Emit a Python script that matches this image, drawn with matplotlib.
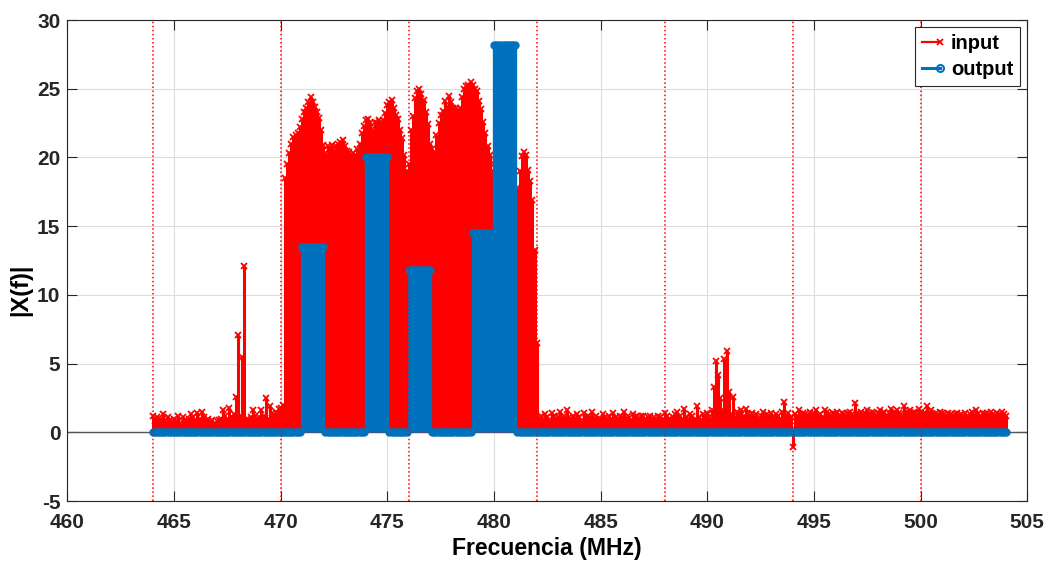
import numpy as np
import matplotlib
matplotlib.use("Agg")
import matplotlib.pyplot as plt
from matplotlib.lines import Line2D
from matplotlib.legend_handler import HandlerLine2D

plt.rcParams['font.family'] = ['Liberation Sans', 'DejaVu Sans']
plt.rcParams['font.weight'] = 'bold'
plt.rcParams['axes.unicode_minus'] = False

# frequency grid (MHz), one sample every 0.1 MHz from 464 to 504
f_start, f_stop, f_step = 464.0, 504.0, 0.1

# |X(f)| of the input, one row per MHz (464.x ... 503.x)
input_rows = [
    [1.2, 0.8, 1.1, 0.7, 1.0, 1.3, 0.8, 1.1, 0.9, 0.7],    # 464
    [1.0, 0.8, 1.2, 0.7, 1.1, 0.9, 0.8, 1.0, 1.3, 1.1],    # 465
    [0.9, 1.4, 1.0, 1.5, 1.1, 0.8, 1.0, 0.7, 0.9, 0.6],    # 466
    [0.8, 0.9, 1.0, 1.6, 1.2, 0.9, 1.8, 1.1, 1.3, 2.6],    # 467
    [7.1, 1.2, 5.5, 12.1, 1.0, 0.9, 1.1, 1.6, 1.2, 1.0],   # 468
    [1.1, 1.6, 1.2, 2.5, 1.0, 1.9, 1.4, 1.2, 1.5, 1.7],    # 469
    [1.8, 2.0, 18.5, 19.5, 20.3, 21.0, 21.5, 21.6, 21.8, 22.2],   # 470
    [22.8, 23.3, 23.6, 24.0, 24.4, 24.0, 23.7, 23.3, 22.9, 22.0],  # 471
    [20.9, 20.3, 20.8, 20.6, 20.9, 20.5, 20.8, 21.0, 21.1, 21.3],  # 472
    [20.8, 20.5, 20.4, 20.2, 20.3, 20.2, 20.6, 21.0, 21.8, 22.3],  # 473
    [22.7, 22.8, 22.5, 22.1, 22.6, 22.5, 22.7, 22.4, 22.7, 23.2],  # 474
    [23.8, 24.0, 24.2, 23.6, 23.1, 22.8, 22.0, 21.4, 20.2, 19.0],  # 475
    [19.5, 22.0, 23.0, 24.3, 24.8, 25.0, 24.6, 24.2, 23.3, 22.4],  # 476
    [21.0, 20.6, 20.3, 21.6, 22.5, 23.1, 23.4, 24.1, 23.7, 24.5],  # 477
    [24.0, 23.6, 23.6, 23.3, 23.6, 24.4, 25.0, 25.2, 25.3, 25.5],  # 478
    [25.3, 25.0, 24.8, 24.1, 23.5, 22.6, 21.8, 20.8, 20.2, 19.0],  # 479
    [19.5, 20.0, 19.8, 20.5, 20.1, 19.6, 19.9, 19.2, 18.8, 18.0],  # 480
    [15.5, 17.8, 19.0, 20.1, 20.4, 20.2, 19.1, 18.3, 16.9, 13.3],  # 481
    [6.5, 1.0, 1.2, 0.8, 1.3, 1.1, 0.9, 1.4, 1.2, 0.8],    # 482
    [1.1, 1.5, 1.0, 1.2, 1.6, 1.1, 0.8, 1.2, 1.0, 1.3],    # 483
    [1.1, 0.8, 1.4, 1.0, 1.2, 1.1, 1.5, 1.0, 1.2, 0.9],    # 484
    [1.0, 1.3, 1.1, 0.8, 1.2, 1.0, 1.4, 1.1, 0.9, 1.2],    # 485
    [1.1, 1.5, 1.0, 1.2, 0.9, 1.3, 1.1, 1.2, 1.0, 1.2],    # 486
    [1.2, 1.0, 1.1, 1.2, 0.9, 1.1, 0.8, 1.2, 1.1, 1.0],    # 487
    [1.4, 1.2, 1.0, 0.9, 1.1, 1.3, 1.5, 1.2, 0.9, 1.7],    # 488
    [1.1, 1.0, 1.3, 1.2, 1.0, 1.9, 1.1, 0.9, 1.3, 1.2],    # 489
    [1.4, 1.1, 1.6, 3.3, 5.2, 4.2, 2.5, 1.6, 5.3, 5.9],    # 490
    [2.9, 1.3, 2.6, 1.1, 1.5, 1.3, 1.6, 1.2, 1.7, 1.3],    # 491
    [1.2, 1.4, 1.1, 1.3, 1.0, 1.2, 1.5, 1.1, 1.3, 1.2],    # 492
    [1.4, 1.1, 1.3, 1.2, 1.0, 1.5, 2.2, 1.2, 1.4, 1.1],    # 493
    [-1.1, 1.3, 1.2, 1.6, 1.1, 1.4, 1.3, 1.2, 1.5, 1.2],   # 494
    [1.4, 1.6, 1.2, 1.3, 1.1, 1.6, 1.5, 1.3, 1.2, 1.4],    # 495
    [1.3, 1.5, 1.2, 1.4, 1.3, 1.2, 1.4, 1.5, 1.3, 2.1],    # 496
    [1.4, 1.3, 1.5, 1.2, 1.4, 1.6, 1.3, 1.5, 1.4, 1.2],    # 497
    [1.4, 1.6, 1.3, 1.5, 1.2, 1.4, 1.7, 1.3, 1.5, 1.6],    # 498
    [1.4, 1.3, 1.9, 1.5, 1.4, 1.6, 1.3, 1.5, 1.4, 1.7],    # 499
    [1.5, 1.3, 1.4, 1.9, 1.4, 1.6, 1.3, 1.4, 1.2, 1.5],    # 500
    [1.4, 1.3, 1.2, 1.4, 1.3, 1.2, 1.3, 1.4, 1.2, 1.3],    # 501
    [1.2, 1.4, 1.2, 1.3, 1.5, 1.2, 1.6, 1.3, 1.2, 1.4],    # 502
    [1.3, 1.4, 1.2, 1.5, 1.3, 1.2, 1.4, 1.3, 1.5, 1.3],    # 503
    [1.2],                                                 # 504.0
]

# output: 1 MHz channels that pass, with their level
out_band_start = [471.0, 474.0, 476.0, 479.0, 480.0]
out_band_level = [13.5, 20.0, 11.8, 14.5, 28.2]

# channel edges marked with dotted lines
channel_edges = [464, 470, 476, 482, 488, 494, 500]

freq = np.round(np.arange(f_start, f_stop + f_step / 2, f_step), 1)
x_in = np.array([v for row in input_rows for v in row])

y_out = np.zeros_like(freq)
for s, lev in zip(out_band_start, out_band_level):
    m = (freq >= s - 1e-6) & (freq <= s + 1.0 + 1e-6)
    y_out[m] = np.maximum(y_out[m], lev)

red = '#ff0000'
blue = '#0072bd'


class EndMarker(HandlerLine2D):
    # matlab style legend entry: line with the marker at its right end
    def create_artists(self, *args, **kwargs):
        arts = super().create_artists(*args, **kwargs)
        for a in arts:
            n = len(a.get_xdata())
            a.set_markevery([n - 1])
        return arts


fig = plt.figure(figsize=(10.5, 5.66), dpi=100)
ax = fig.add_axes([0.0641, 0.1148, 0.9143, 0.8498])

ax.axhline(0, color='#555555', lw=1.0, zorder=1)

s1 = ax.stem(freq, x_in, basefmt=' ')
s1.stemlines.set_color(red)
s1.stemlines.set_linewidth(2.2)
s1.stemlines.set_zorder(2)
s1.markerline.set_color(red)
s1.markerline.set_marker('x')
s1.markerline.set_markersize(4.5)
s1.markerline.set_markeredgewidth(1.3)
s1.markerline.set_zorder(2.1)

s2 = ax.stem(freq, y_out, basefmt=' ')
s2.stemlines.set_color(blue)
s2.stemlines.set_linewidth(2.4)
s2.stemlines.set_zorder(3)
s2.markerline.set_color(blue)
s2.markerline.set_marker('o')
s2.markerline.set_markersize(5)
s2.markerline.set_zorder(3.1)

for e in channel_edges:
    ax.axvline(e, color=red, ls=':', lw=1.1, zorder=4)

ax.set_xlim(460, 505)
ax.set_ylim(-5, 30)
ax.set_xticks(np.arange(460, 506, 5))
ax.set_yticks(np.arange(-5, 31, 5))
ax.grid(True, color='#dcdcdc', lw=0.8)
ax.set_axisbelow(True)

ax.tick_params(direction='in', length=7, width=0.8, top=True, right=True,
               labelsize=15, colors='#262626')
ax.tick_params(axis='x', pad=8.5)
ax.tick_params(axis='y', pad=5)
for sp in ax.spines.values():
    sp.set_color('#262626')
    sp.set_linewidth(0.8)

ax.set_xlabel('Frecuencia (MHz)', fontsize=16.6, fontweight='bold', labelpad=4)
ax.set_ylabel('|X(f)|', fontsize=17, fontweight='bold')
ax.yaxis.set_label_coords(-0.037, 0.44)

h_in = Line2D([], [], color=red, marker='x', markersize=4.5, markeredgewidth=1.3,
              lw=1.6)
h_out = Line2D([], [], color=blue, marker='o', markersize=5, lw=2.2,
               markerfacecolor='none', markeredgewidth=1.5)
leg = ax.legend([h_in, h_out], ['input', 'output'], loc='upper right',
                numpoints=2, handlelength=0.9, handletextpad=0.55,
                handler_map={Line2D: EndMarker(marker_pad=0)},
                borderaxespad=0.35, fancybox=False, framealpha=1,
                edgecolor='#262626', prop={'size': 14.5, 'weight': 'bold'},
                borderpad=0.35, labelspacing=0.35)
leg.get_frame().set_linewidth(0.8)

fig.savefig('out.png', dpi=100)
